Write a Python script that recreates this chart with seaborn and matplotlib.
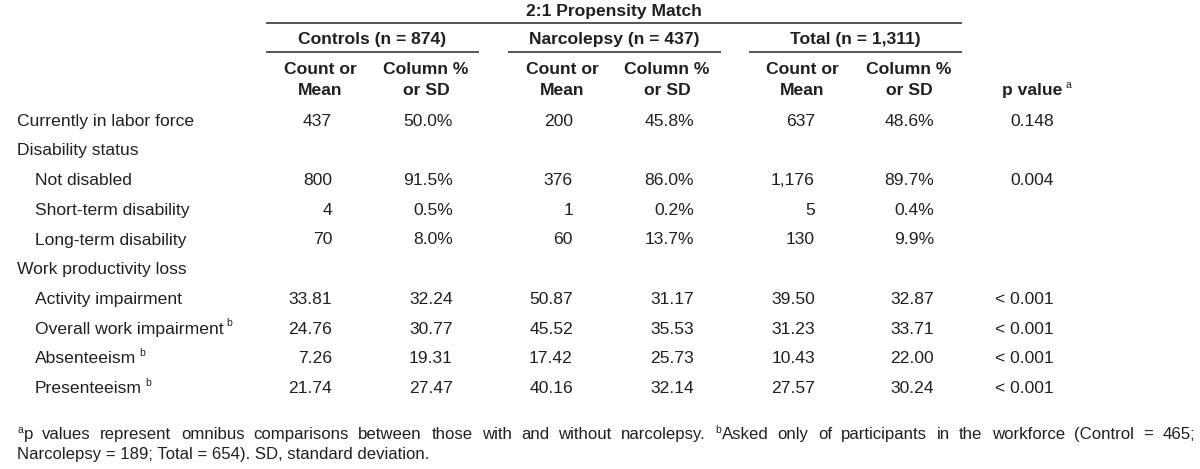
import matplotlib
matplotlib.use("Agg")
import matplotlib.pyplot as plt
import seaborn as sns

sns.set_theme(style="white")
plt.rcParams['font.family'] = ['Liberation Sans', 'DejaVu Sans']

# ---------------- data ----------------
title = "2:1 Propensity Match"
groups = ["Controls (n = 874)", "Narcolepsy (n = 437)", "Total (n = 1,311)"]
sub_headers = [("Count or", "Mean"), ("Column %", "or SD")]
p_header = "p value"

row_labels = ["Currently in labor force", "Disability status", "Not disabled",
              "Short-term disability", "Long-term disability", "Work productivity loss",
              "Activity impairment", "Overall work impairment", "Absenteeism", "Presenteeism"]
row_indent = [0, 0, 1, 1, 1, 0, 1, 1, 1, 1]
row_sup = ["", "", "", "", "", "", "", "b", "b", "b"]
row_kind = ["pct", None, "pct", "pct", "pct", None, "mean", "mean", "mean", "mean"]

ctrl_count = [437, None, 800, 4, 70, None, 33.81, 24.76, 7.26, 21.74]
ctrl_pct = [50.0, None, 91.5, 0.5, 8.0, None, 32.24, 30.77, 19.31, 27.47]
narc_count = [200, None, 376, 1, 60, None, 50.87, 45.52, 17.42, 40.16]
narc_pct = [45.8, None, 86.0, 0.2, 13.7, None, 31.17, 35.53, 25.73, 32.14]
tot_count = [637, None, 1176, 5, 130, None, 39.50, 31.23, 10.43, 27.57]
tot_pct = [48.6, None, 89.7, 0.4, 9.9, None, 32.87, 33.71, 22.00, 30.24]
p_values = ["0.148", "", "0.004", "", "", "", "< 0.001", "< 0.001", "< 0.001", "< 0.001"]

footnote1 = [[("a", True), ("p", False)], "values", "represent", "omnibus", "comparisons",
             "between", "those", "with", "and", "without", "narcolepsy.",
             [("b", True), ("Asked", False)], "only", "of", "participants", "in", "the",
             "workforce", "(Control", "=", "465;"]
footnote2 = "Narcolepsy = 189; Total = 654). SD, standard deviation."

# ---------------- layout ----------------
W, H = 1200, 469
fig = plt.figure(figsize=(W / 100, H / 100), dpi=100)
ax = fig.add_axes([0, 0, 1, 1])
ax.set_xlim(0, W)
ax.set_ylim(H, 0)
ax.axis("off")

TXT = "#231f20"
LINE = "#3a3a3a"
FS = 12.6
FS_FOOT = 12.1
FS_SUP = 7.5
BL = 6.2  # offset from visual centre of capitals to baseline (px)

group_spans = [(266, 479), (508, 721), (749, 962)]
count_center = [320, 562, 802]
pct_center = [426, 667, 909]
count_right = [332, 573, 815]
pct_right = [453, 694, 934]
p_right = 1054


def put(x, yc, s, ha="left", size=FS, bold=False):
    return ax.text(x, yc + BL * size / FS, s, ha=ha, va="baseline", fontsize=size,
                   fontweight="bold" if bold else "normal", color=TXT)


# title and rules
put((group_spans[0][0] + group_spans[2][1]) / 2, 10, title, ha="center", bold=True)
ax.plot([group_spans[0][0], group_spans[2][1]], [23, 23], color=LINE, lw=1.2,
        solid_capstyle="butt")
for (x0, x1), g in zip(group_spans, groups):
    put((x0 + x1) / 2, 38, g, ha="center", bold=True)
    ax.plot([x0, x1], [52, 52], color=LINE, lw=1.2, solid_capstyle="butt")

for i in range(3):
    for cx, (l1, l2) in zip((count_center[i], pct_center[i]), sub_headers):
        put(cx, 68, l1, ha="center", bold=True)
        put(cx, 89, l2, ha="center", bold=True)

ph = put(1002, 89, p_header, bold=True)

fig.canvas.draw()
renderer = fig.canvas.get_renderer()


def right_x(t):
    return t.get_window_extent(renderer=renderer).x1


ax.text(right_x(ph) + 3, 89 - 1, "a", ha="left", va="baseline", fontsize=FS_SUP, color=TXT)


def fmt_count(v, kind):
    if v is None:
        return ""
    return f"{int(v):,}" if kind == "pct" else f"{v:.2f}"


def fmt_pct(v, kind):
    if v is None:
        return ""
    return f"{v:.1f}%" if kind == "pct" else f"{v:.2f}"


row_y0, row_dy = 119.5, 29.7
counts = [ctrl_count, narc_count, tot_count]
pcts = [ctrl_pct, narc_pct, tot_pct]
for r, label in enumerate(row_labels):
    y = row_y0 + r * row_dy
    lx = 35 if row_indent[r] else 17
    t = put(lx, y, label)
    if row_sup[r]:
        ax.text(right_x(t) + 3, y - 1, row_sup[r], ha="left", va="baseline",
                fontsize=FS_SUP, color=TXT)
    kind = row_kind[r]
    for i in range(3):
        put(count_right[i], y, fmt_count(counts[i][r], kind), ha="right")
        put(pct_right[i], y, fmt_pct(pcts[i][r], kind), ha="right")
    if p_values[r]:
        put(p_right, y, p_values[r], ha="right")

# ---------------- footnotes (line 1 justified) ----------------
fy1, fy2 = 433, 453
fx0, fx1 = 17, 1195


def word_runs(w):
    return w if isinstance(w, list) else [(w, False)]


def measure(s, size):
    t = ax.text(0, 0, s, fontsize=size)
    w = t.get_window_extent(renderer=renderer).width
    t.remove()
    return w


widths = []
for w in footnote1:
    widths.append(sum(measure(s, FS_SUP if sup else FS_FOOT) + (1 if sup else 0)
                      for s, sup in word_runs(w)))
gap = (fx1 - fx0 - sum(widths)) / (len(footnote1) - 1)
x = fx0
for w, wd in zip(footnote1, widths):
    xx = x
    for s, sup in word_runs(w):
        if sup:
            ax.text(xx, fy1 + BL * FS_FOOT / FS - 6, s, ha="left", va="baseline",
                    fontsize=FS_SUP, color=TXT)
            xx += measure(s, FS_SUP) + 1
        else:
            put(xx, fy1, s, size=FS_FOOT)
            xx += measure(s, FS_FOOT)
    x += wd + gap

put(fx0, fy2, footnote2, size=FS_FOOT)

fig.savefig("out.png", dpi=100, facecolor="white")
